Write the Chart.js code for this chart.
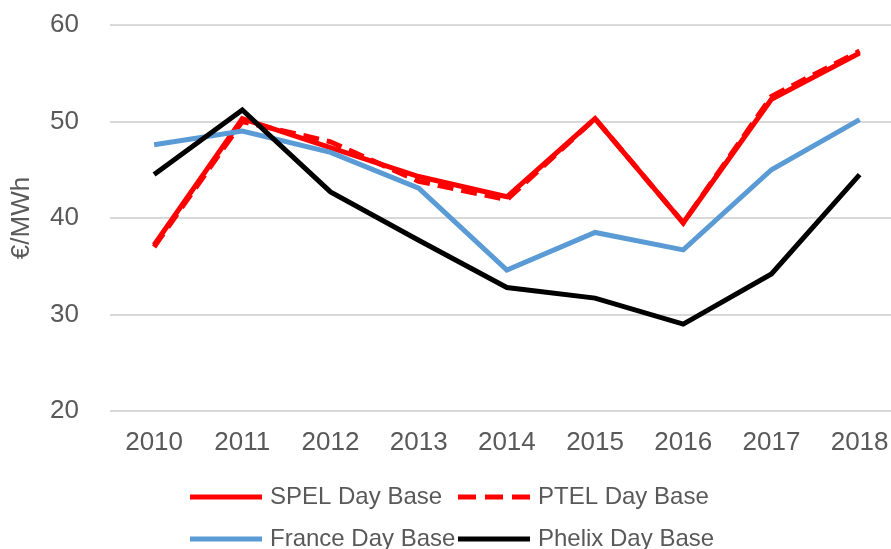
<!DOCTYPE html>
<html>
<head>
<meta charset="utf-8">
<script src="https://cdn.jsdelivr.net/npm/chart.js@4/dist/chart.umd.min.js"></script>
<style>
  html, body { margin: 0; padding: 0; background: #ffffff; overflow: hidden; }
  #wrap { position: relative; width: 905px; height: 549px; }
</style>
</head>
<body>
<div id="wrap"><canvas id="c"></canvas></div>
<script>
const categories = ['2010', '2011', '2012', '2013', '2014', '2015', '2016', '2017', '2018'];
const spelValues   = [37.2, 50.3, 47.3, 44.3, 42.2, 50.3, 39.5, 52.3, 57.1];
const ptelValues   = [37.0, 50.0, 47.9, 43.8, 41.9, 50.3, 39.5, 52.6, 57.3];
const franceValues = [47.6, 49.0, 46.8, 43.1, 34.6, 38.5, 36.7, 45.0, 50.2];
const phelixValues = [44.5, 51.2, 42.7, 37.7, 32.8, 31.7, 29.0, 34.2, 44.5];
const yTicks = [20, 30, 40, 50, 60];
const seriesNames = ['SPEL Day Base', 'PTEL Day Base', 'France Day Base', 'Phelix Day Base'];

const FONT = 'Liberation Sans, Arial, sans-serif';
const TEXT = '#595959';

const legendPlugin = {
  id: 'gridLegend',
  afterDraw(chart) {
    const ctx = chart.ctx;
    const area = chart.chartArea;
    const colX = [190, 458];
    const rowY = [area.bottom + 86, area.bottom + 128];
    ctx.save();
    chart.data.datasets.forEach((d, i) => {
      const x = colX[i % 2];
      const y = rowY[Math.floor(i / 2)];
      ctx.beginPath();
      ctx.strokeStyle = d.borderColor;
      ctx.lineWidth = 5;
      ctx.lineCap = 'butt';
      ctx.setLineDash(d.borderDash ? [18, 9] : []);
      ctx.moveTo(x, y);
      ctx.lineTo(x + 72, y);
      ctx.stroke();
      ctx.setLineDash([]);
      ctx.fillStyle = TEXT;
      ctx.font = '24px ' + FONT;
      ctx.textAlign = 'left';
      ctx.textBaseline = 'middle';
      ctx.fillText(d.label, x + 80, y);
    });
    ctx.restore();
  }
};

new Chart(document.getElementById('c'), {
  type: 'line',
  data: {
    labels: categories,
    datasets: [
      { label: seriesNames[0], data: spelValues, borderColor: '#ff0000', backgroundColor: '#ff0000', borderWidth: 5, order: 4 },
      { label: seriesNames[1], data: ptelValues, borderColor: '#ff0000', backgroundColor: '#ff0000', borderWidth: 5, borderDash: [16, 8], order: 3 },
      { label: seriesNames[2], data: franceValues, borderColor: '#5b9bd5', backgroundColor: '#5b9bd5', borderWidth: 5, order: 2 },
      { label: seriesNames[3], data: phelixValues, borderColor: '#000000', backgroundColor: '#000000', borderWidth: 5, order: 1 }
    ]
  },
  options: {
    responsive: true,
    maintainAspectRatio: false,
    animation: false,
    devicePixelRatio: 1,
    layout: { padding: { top: 25, right: 1, bottom: 90.4, left: 0 } },
    elements: {
      point: { radius: 0, hoverRadius: 0 },
      line: { tension: 0, borderCapStyle: 'butt', borderJoinStyle: 'miter' }
    },
    plugins: {
      legend: { display: false },
      tooltip: { enabled: false }
    },
    scales: {
      x: {
        offset: true,
        grid: { display: false, drawTicks: false },
        border: { display: false },
        ticks: { color: TEXT, font: { family: FONT, size: 26 }, padding: 16.4, maxRotation: 0, autoSkip: false },
        afterFit(s) { s.height = 47.6; s.paddingTop = 0; s.paddingBottom = 0; }
      },
      y: {
        min: 20,
        max: 60,
        afterBuildTicks(s) { s.ticks = yTicks.map(v => ({ value: v })); },
        grid: { color: '#d9d9d9', lineWidth: 2, drawTicks: false },
        border: { display: false },
        ticks: { color: TEXT, font: { family: FONT, size: 26 }, padding: 31 },
        title: { display: true, text: '€/MWh', color: TEXT, font: { family: FONT, size: 26 }, padding: { top: 6.4, bottom: 0 } },
        afterFit(s) { s.width = 110; s.paddingTop = 0; s.paddingBottom = 0; }
      }
    }
  },
  plugins: [legendPlugin]
});
</script>
</body>
</html>
